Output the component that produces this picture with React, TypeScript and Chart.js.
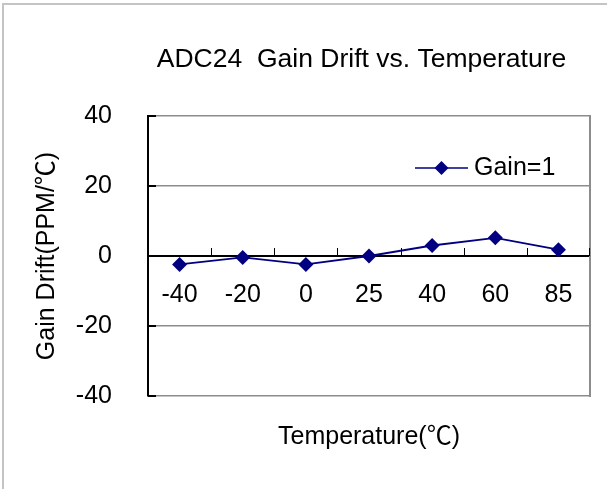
import React, { useEffect, useRef } from "react";
import { Chart, registerables } from "chart.js";

Chart.register(...registerables);

const TITLE = "ADC24  Gain Drift vs. Temperature";
const X_TITLE = "Temperature(℃)";
const Y_TITLE = "Gain Drift(PPM/℃)";
const SERIES_NAME = "Gain=1";
const temperatures = ["-40", "-20", "0", "25", "40", "60", "85"];
const gainDrift = [-2.4, -0.4, -2.4, 0, 3.0, 5.2, 1.8];
const yMin = -40;
const yMax = 40;
const yStep = 20;

const FONT = "'Liberation Sans', Arial, 'Noto Sans CJK SC', sans-serif";
const NAVY = "#000080";
const GRID = "#8c8c8c";

const decorations = {
  id: "decorations",
  afterDraw(chart: any) {
    const { ctx, chartArea } = chart;
    const xs = chart.scales.x;
    const ys = chart.scales.y;
    const left = Math.round(chartArea.left);
    const right = Math.round(chartArea.right);
    const top = Math.round(chartArea.top);
    const bottom = Math.round(chartArea.bottom);
    ctx.save();
    // right frame of the plot area
    ctx.fillStyle = GRID;
    ctx.fillRect(right - 1, top - 1, 2, bottom - top + 2);
    // category tick marks pointing up from the zero line
    const y0 = Math.round(ys.getPixelForValue(0));
    ctx.fillStyle = "#000";
    for (let i = 0; i <= temperatures.length; i++) {
      const px = Math.round(xs.getPixelForValue(i - 0.5));
      ctx.fillRect(Math.min(px, right - 1), y0 - 8, 1, 8);
    }
    // value-axis tick marks pointing inside
    for (const t of ys.ticks) {
      const py = Math.round(ys.getPixelForValue(t.value));
      ctx.fillRect(left, py - 1, 8, 2);
    }
    // title
    ctx.fillStyle = "#000";
    ctx.font = `26.5px ${FONT}`;
    ctx.textBaseline = "middle";
    ctx.textAlign = "center";
    ctx.fillText(TITLE, left + 213.5, top - 56);
    // legend
    const lx0 = right - 175;
    const lx1 = right - 122;
    const ly = top + 52;
    ctx.strokeStyle = NAVY;
    ctx.lineWidth = 1.5;
    ctx.beginPath();
    ctx.moveTo(lx0, ly);
    ctx.lineTo(lx1, ly);
    ctx.stroke();
    const cx = (lx0 + lx1) / 2;
    ctx.fillStyle = NAVY;
    ctx.beginPath();
    ctx.moveTo(cx - 7, ly);
    ctx.lineTo(cx, ly - 7);
    ctx.lineTo(cx + 7, ly);
    ctx.lineTo(cx, ly + 7);
    ctx.closePath();
    ctx.fill();
    ctx.fillStyle = "#000";
    ctx.font = `25px ${FONT}`;
    ctx.textAlign = "left";
    ctx.fillText(SERIES_NAME, lx1 + 6, ly);
    ctx.restore();
  },
};

export default function App() {
  const ref = useRef<HTMLCanvasElement>(null);
  useEffect(() => {
    const chart = new Chart(ref.current as HTMLCanvasElement, {
      type: "line",
      data: {
        labels: temperatures,
        datasets: [
          {
            label: SERIES_NAME,
            data: gainDrift,
            borderColor: NAVY,
            backgroundColor: NAVY,
            borderWidth: 1.8,
            pointStyle: "rectRot",
            pointRadius: 7.5,
            pointBorderWidth: 0,
            pointBackgroundColor: NAVY,
            tension: 0,
            xAxisID: "x",
          },
        ],
      },
      options: {
        animation: false,
        responsive: false,
        devicePixelRatio: 1,
        layout: { padding: { left: 0, right: 17, top: 116, bottom: 0 } },
        plugins: {
          legend: { display: false },
          tooltip: { enabled: false },
          title: { display: false, text: TITLE },
        },
        scales: {
          x: {
            type: "category",
            position: { y: 0 } as any,
            offset: true,
            grid: {
              display: false,
              offset: true,
            },
            border: { display: false },
            ticks: {
              color: "#000",
              padding: 16,
              font: { family: FONT, size: 25 },
              maxRotation: 0,
              autoSkip: false,
            },
          },
          xTitle: {
            type: "category",
            position: "bottom",
            labels: temperatures,
            grid: { display: false },
            border: { display: false },
            ticks: { display: false },
            title: {
              display: true,
              text: X_TITLE,
              color: "#000",
              font: { family: FONT, size: 25 },
              padding: { top: 0, bottom: 37 },
            },
            afterFit(scale: any) {
              scale.height = 93;
            },
          },
          y: {
            type: "linear",
            min: yMin,
            max: yMax,
            grid: {
              color: (c: any) => (c.tick && c.tick.value === 0 ? "#000" : GRID),
              lineWidth: (c: any) => (c.tick && c.tick.value === 0 ? 2 : 1.5),
              drawTicks: false,
            },
            border: { display: true, color: "#000", width: 2 },
            ticks: {
              stepSize: yStep,
              color: "#000",
              padding: 36,
              font: { family: FONT, size: 25 },
            },
            title: {
              display: true,
              text: Y_TITLE,
              color: "#000",
              font: { family: FONT, size: 25 },
              padding: { top: 32, bottom: 0 },
            },
            afterFit(scale: any) {
              scale.width = 148;
            },
          },
        },
      },
      plugins: [decorations],
    });
    return () => chart.destroy();
  }, []);
  return (
    <div
      style={{
        position: "absolute",
        left: 0,
        top: 0,
        width: 607,
        height: 489,
        background: "#fff",
        overflow: "hidden",
      }}
    >
      <div
        style={{
          position: "absolute",
          left: 2,
          top: 3,
          width: 620,
          height: 500,
          borderTop: "2px solid #c4c4c4",
          borderLeft: "2px solid #c4c4c4",
        }}
      />
      <canvas
        ref={ref}
        width={607}
        height={489}
        style={{ position: "absolute", left: 0, top: 0, width: 607, height: 489 }}
      />
    </div>
  );
}
